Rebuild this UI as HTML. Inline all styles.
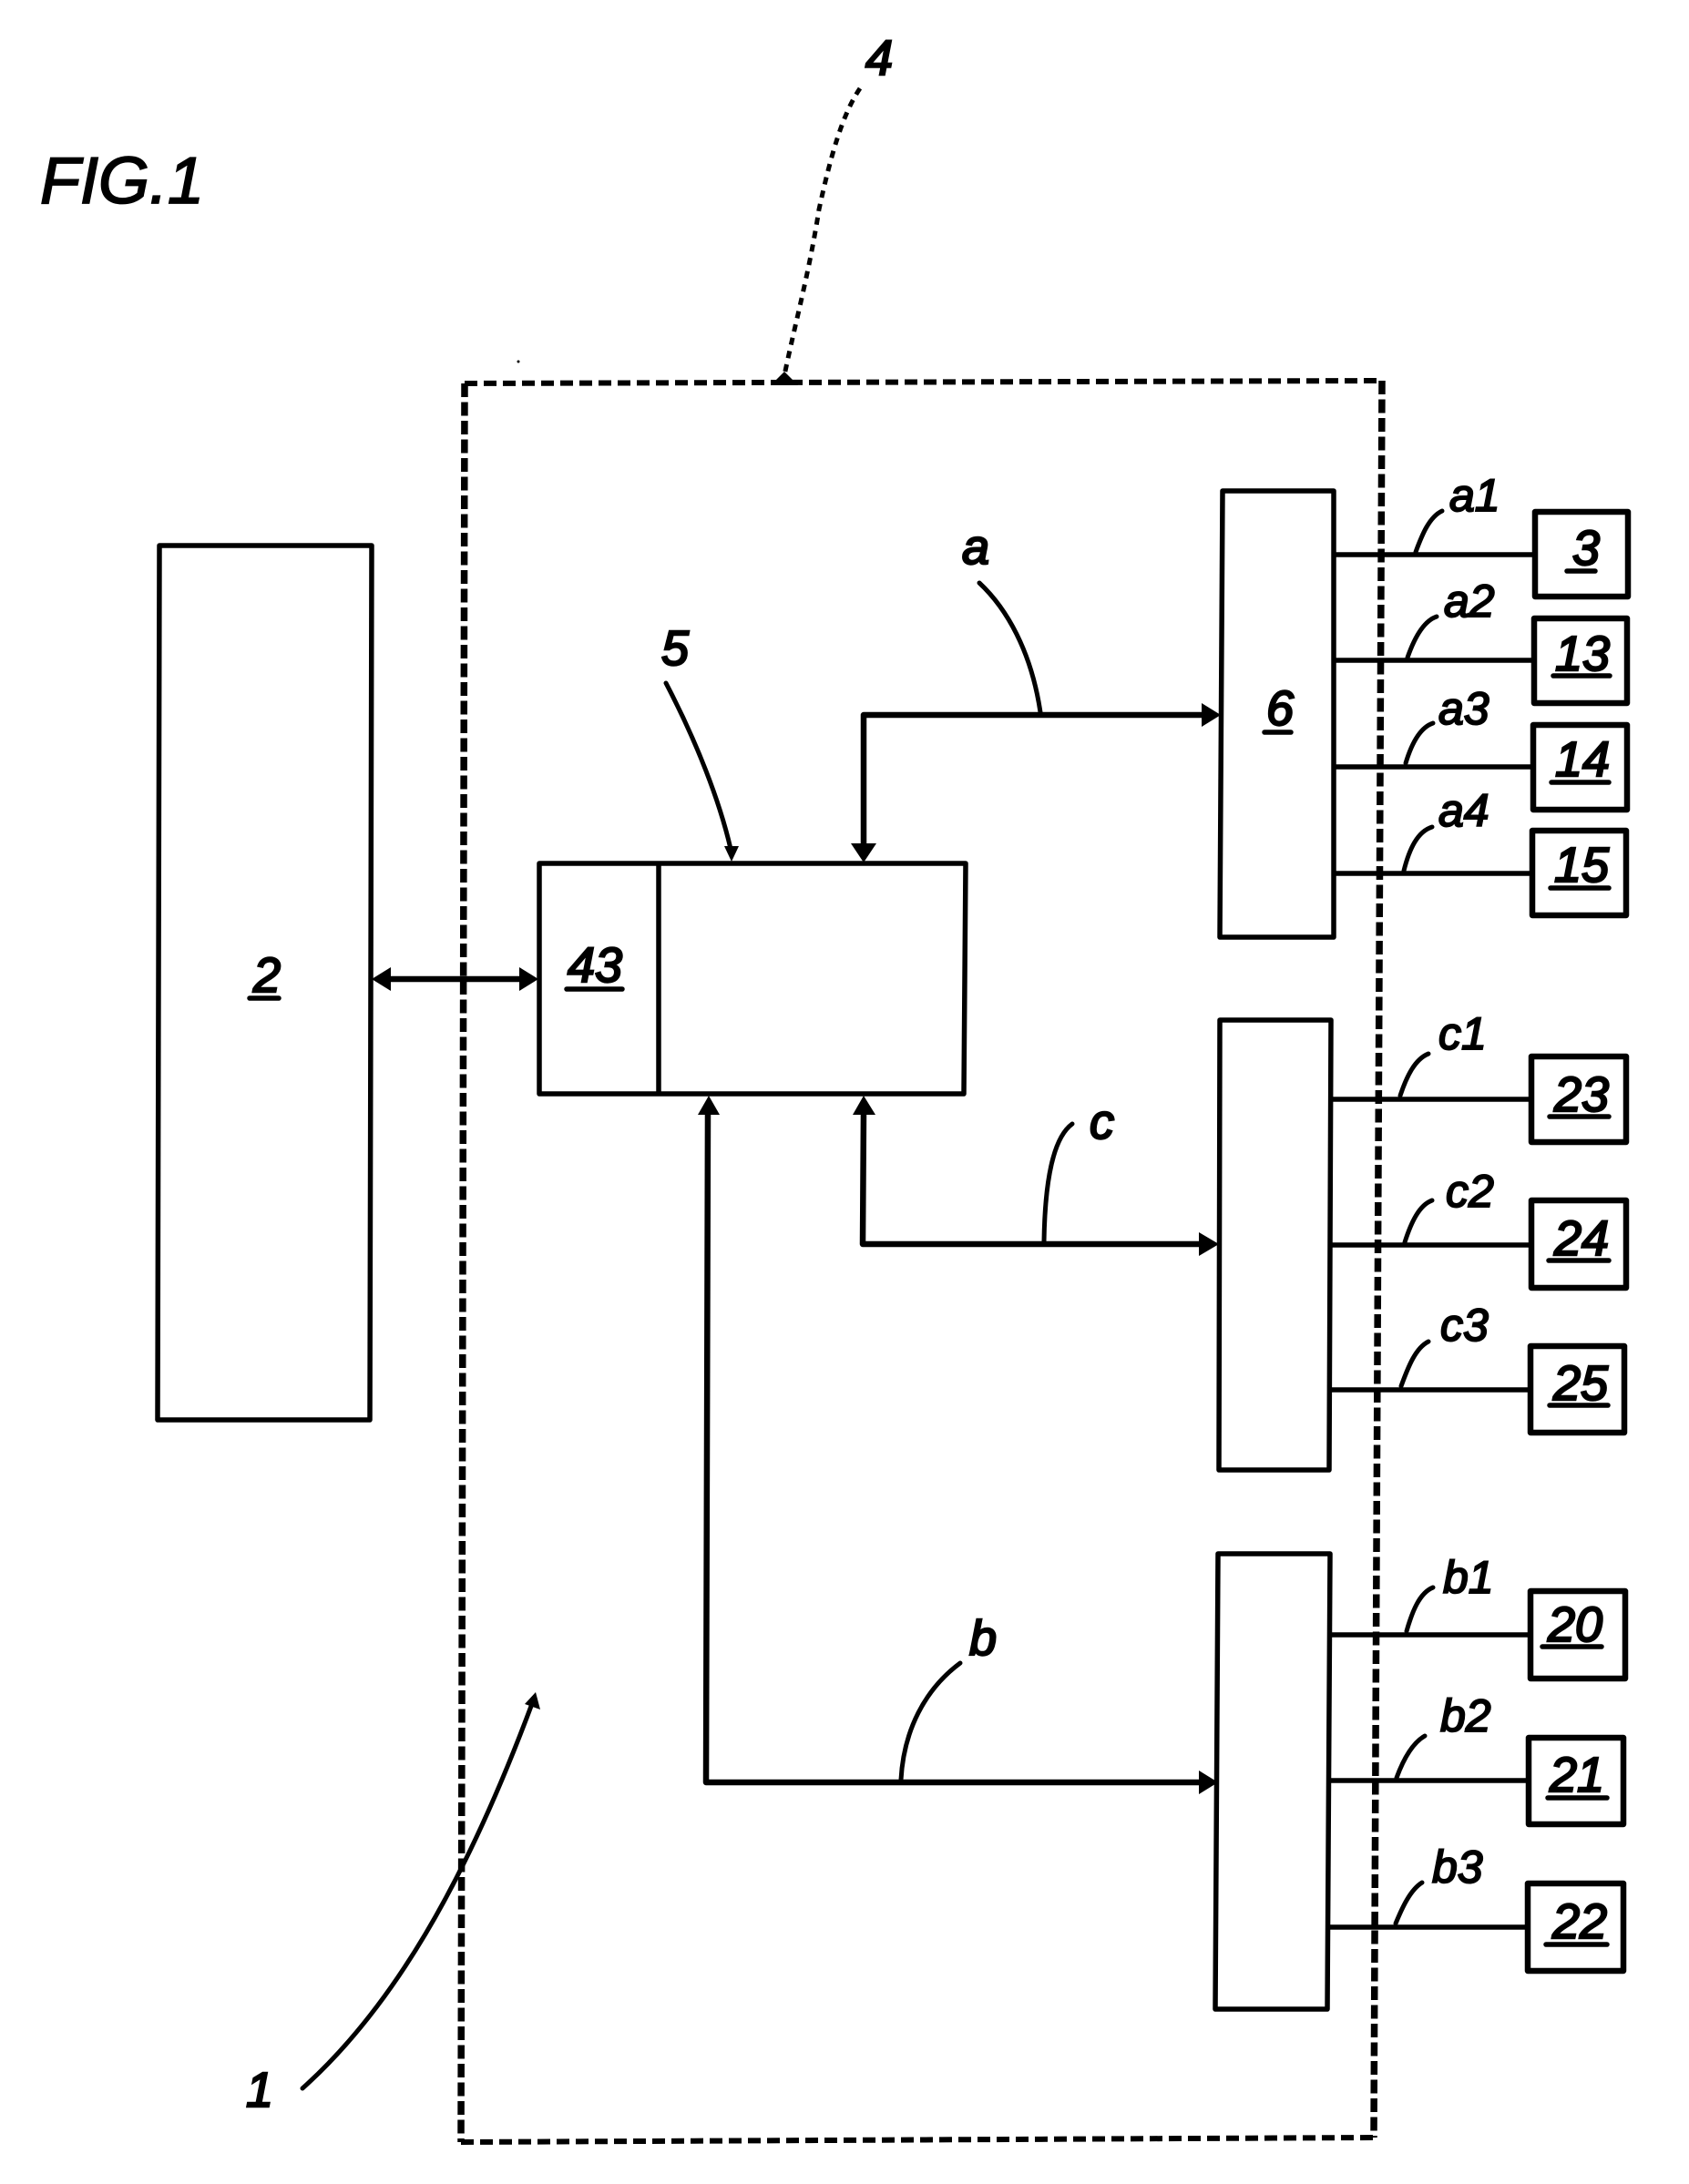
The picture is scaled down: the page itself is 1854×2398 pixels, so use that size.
<!DOCTYPE html>
<html>
<head>
<meta charset="utf-8">
<style>
html,body{margin:0;padding:0;background:#fff;width:1854px;height:2398px;overflow:hidden}
svg{display:block}
text{font-family:"Liberation Sans",sans-serif;font-style:italic;fill:#000;stroke:#000}
.n{font-size:54px;stroke-width:2.4}
.l{font-size:50px;stroke-width:2}
.box{fill:none;stroke:#000;stroke-width:5.5;stroke-linejoin:round}
.nb{fill:none;stroke:#000;stroke-width:6.5;stroke-linejoin:round}
.ln{fill:none;stroke:#000;stroke-width:5.5;stroke-linecap:butt}
.bus{fill:none;stroke:#000;stroke-width:6.5;stroke-linejoin:round}
.ld{fill:none;stroke:#000;stroke-width:5;stroke-linecap:round}
.u{stroke:#000;stroke-width:5.5;stroke-linecap:round}
.dh{fill:none;stroke:#000;stroke-width:6;stroke-dasharray:14 7}
.dv{fill:none;stroke:#000;stroke-width:7.5;stroke-dasharray:15 5.5}
</style>
</head>
<body>
<svg width="1854" height="2398" viewBox="0 0 1854 2398" xmlns="http://www.w3.org/2000/svg">
<rect width="1854" height="2398" fill="#fff"/>

<text x="44" y="223" style="font-size:72px;stroke-width:1.8">FIG.1</text>

<!-- dashed enclosure -->
<path class="dh" d="M510 421 L1517 418"/>
<path class="dv" d="M1517 418 L1508 2347"/>
<path class="dh" d="M506 2352 L1508 2347"/>
<path class="dv" d="M510 421 L506 2352"/>
<circle cx="569" cy="397" r="1.5" fill="#000"/>
<path d="M944 97 C925 125 912 170 899 230 C888 300 874 350 861 412" fill="none" stroke="#000" stroke-width="5" stroke-dasharray="8 7"/>
<path d="M846 423 L861 408 L876 423 Z" fill="#000"/>
<text class="n" x="950" y="82">4</text>

<!-- main boxes -->
<path class="box" d="M175 599 L408 599 L406 1559 L173 1559 Z"/>
<path class="box" d="M592 948 L1060 948 L1058 1201 L592 1201 Z"/>
<path class="box" d="M723 948 L723 1201"/>
<path class="box" d="M1342 539 L1464 539 L1464 1029 L1339 1029 Z"/>
<path class="box" d="M1339 1120 L1461 1120 L1459 1614 L1338 1614 Z"/>
<path class="box" d="M1337 1706 L1460 1706 L1457 2206 L1334 2206 Z"/>

<!-- connectors -->
<path class="bus" d="M425 1075 L575 1075"/>
<path d="M408 1075 L429 1062 L429 1088 Z" fill="#000"/>
<path d="M591 1075 L570 1062 L570 1088 Z" fill="#000"/>

<path class="bus" d="M948 930 L948 785 L1322 785"/>
<path d="M948 947 L934 926 L962 926 Z" fill="#000"/>
<path d="M1340 785 L1319 772 L1319 798 Z" fill="#000"/>

<path class="bus" d="M948 1220 L947 1366 L1320 1366"/>
<path d="M948 1203 L936 1224 L961 1224 Z" fill="#000"/>
<path d="M1338 1366 L1316 1353 L1316 1379 Z" fill="#000"/>

<path class="bus" d="M777 1220 L775 1957 L1320 1957"/>
<path d="M778 1203 L766 1224 L790 1224 Z" fill="#000"/>
<path d="M1337 1957 L1316 1944 L1316 1970 Z" fill="#000"/>

<!-- output lines -->
<path class="ln" d="M1464 609 L1684 609 M1464 725 L1683 725 M1464 842 L1682 842 M1464 959 L1681 959"/>
<path class="ln" d="M1461 1207 L1681 1207 M1460 1367 L1681 1367 M1459 1526 L1680 1526"/>
<path class="ln" d="M1460 1795 L1680 1795 M1459 1955 L1678 1955 M1458 2116 L1677 2116"/>

<!-- leaders -->
<path class="ld" d="M1075 640 C1105 668 1132 715 1142 782"/>
<path class="ld" d="M1177 1234 C1155 1250 1147 1300 1146 1363"/>
<path class="ld" d="M1054 1826 C1015 1855 992 1900 989 1954"/>
<path class="ld" d="M731 750 C765 815 790 880 802 932"/>
<path d="M803 946 L795 929 L811 929 Z" fill="#000"/>
<path class="ld" d="M1554 606 C1560 590 1568 568 1583 561"/>
<path class="ld" d="M1545 722 C1552 702 1562 682 1577 677"/>
<path class="ld" d="M1543 838 C1549 818 1558 799 1573 794"/>
<path class="ld" d="M1541 956 C1547 932 1556 913 1572 908"/>
<path class="ld" d="M1537 1203 C1544 1182 1553 1163 1568 1157"/>
<path class="ld" d="M1542 1364 C1549 1342 1558 1323 1572 1318"/>
<path class="ld" d="M1538 1522 C1546 1500 1554 1480 1568 1473"/>
<path class="ld" d="M1544 1791 C1550 1770 1558 1749 1573 1743"/>
<path class="ld" d="M1533 1952 C1540 1933 1550 1914 1564 1906"/>
<path class="ld" d="M1532 2112 C1539 2095 1548 2075 1561 2067"/>
<path class="ld" d="M332 2293 C430 2205 510 2070 585 1868"/>
<path d="M588 1858 L576 1871 L593 1877 Z" fill="#000"/>

<!-- terminal boxes -->
<rect class="nb" x="1685" y="562" width="102" height="93"/>
<rect class="nb" x="1684" y="679" width="102" height="93"/>
<rect class="nb" x="1683" y="796" width="103" height="93"/>
<rect class="nb" x="1682" y="912" width="103" height="93"/>
<rect class="nb" x="1681" y="1160" width="104" height="94"/>
<rect class="nb" x="1681" y="1318" width="104" height="96"/>
<rect class="nb" x="1680" y="1478" width="103" height="95"/>
<rect class="nb" x="1680" y="1747" width="104" height="96"/>
<rect class="nb" x="1678" y="1908" width="104" height="95"/>
<rect class="nb" x="1677" y="2068" width="105" height="96"/>

<!-- numbers in boxes -->
<text class="n" x="1726" y="620">3</text><path class="u" d="M1720 627 L1751 627"/>
<text class="n" x="1707" y="736">13</text><path class="u" d="M1705 742 L1767 742"/>
<text class="n" x="1707" y="852">14</text><path class="u" d="M1703 859 L1766 859"/>
<text class="n" x="1706" y="968">15</text><path class="u" d="M1702 975 L1766 975"/>
<text class="n" x="1706" y="1220">23</text><path class="u" d="M1701 1226 L1766 1226"/>
<text class="n" x="1706" y="1378">24</text><path class="u" d="M1700 1384 L1766 1384"/>
<text class="n" x="1705" y="1537">25</text><path class="u" d="M1701 1543 L1765 1543"/>
<text class="n" x="1699" y="1802">20</text><path class="u" d="M1693 1808 L1758 1808"/>
<text class="n" x="1701" y="1967">21</text><path class="u" d="M1699 1974 L1764 1974"/>
<text class="n" x="1704" y="2128">22</text><path class="u" d="M1697 2135 L1764 2135"/>

<text class="n" x="278" y="1089">2</text><path class="u" d="M274 1096 L306 1096"/>
<text class="n" x="623" y="1078">43</text><path class="u" d="M622 1086 L683 1086"/>
<text class="n" x="1390" y="796">6</text><path class="u" d="M1388 804 L1417 804"/>

<!-- labels -->
<text class="n" x="1056" y="619">a</text>
<text class="n" x="726" y="730">5</text>
<text class="n" x="1196" y="1250">c</text>
<text class="n" x="1064" y="1817">b</text>
<text class="n" x="270" y="2313">1</text>

<text class="l" x="1591" y="561">a1</text>
<text class="l" x="1585" y="677">a2</text>
<text class="l" x="1579" y="795">a3</text>
<text class="l" x="1579" y="907">a4</text>
<text class="l" x="1579" y="1152">c1</text>
<text class="l" x="1587" y="1325">c2</text>
<text class="l" x="1581" y="1472">c3</text>
<text class="l" x="1584" y="1749">b1</text>
<text class="l" x="1581" y="1901">b2</text>
<text class="l" x="1572" y="2067">b3</text>
</svg>
</body>
</html>
